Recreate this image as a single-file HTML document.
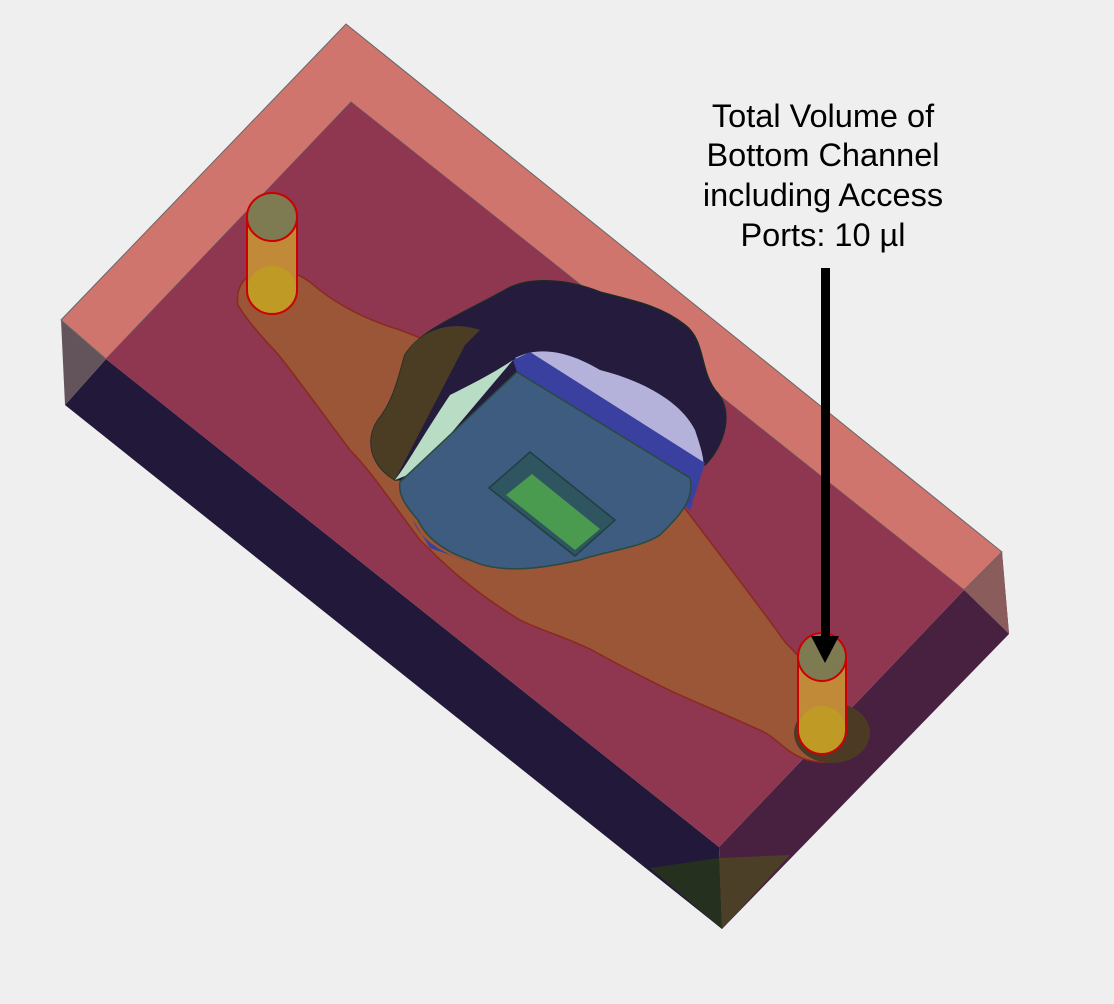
<!DOCTYPE html>
<html><head><meta charset="utf-8"><style>
html,body{margin:0;padding:0;background:#efefef;}
svg{display:block}
</style></head><body>
<svg width="1114" height="1004" viewBox="0 0 1114 1004" xmlns="http://www.w3.org/2000/svg">
<rect width="1114" height="1004" fill="#efefef"/>
<polygon points="65,405 106,359 719,847 722,929" fill="#22193a"/>
<polygon points="61,320 106,359 65,405" fill="#62545a"/>
<polygon points="964,590 1002,552 1009,634 722,929 719,847" fill="#47213f"/>
<polygon points="1002,552 1009,634 964,590" fill="#8a5c5c"/>
<polygon points="650,868 719,858 722,929" fill="#25301f"/>
<polygon points="719,858 790,855 722,929" fill="#4b3f28"/>
<polygon points="61,320 346,24 1002,552 964,590 351,102 106,359" fill="#d0756d" stroke="#666" stroke-width="1"/>
<polygon points="351,102 964,590 719,847 106,359" fill="#8f3650"/>
<!-- channel -->
<path d="M250,275 C265,262 290,268 310,282 C330,300 360,318 400,330 C440,345 470,360 500,375 L680,502 C720,555 755,600 785,642 L850,710 C870,740 850,765 820,762 C790,760 780,740 764,732 C720,712 690,700 667,689 C640,676 610,660 590,649 C560,635 540,630 520,620 C470,590 440,560 420,540 C390,500 370,470 350,450 C320,410 295,375 277,353 C260,335 245,318 238,305 C236,292 240,282 250,275 Z" fill="#9a5636" stroke="#8a2a20" stroke-width="1.5"/>
<ellipse cx="832" cy="733" rx="38" ry="30" fill="#4d3a25"/>
<!-- hole -->
<path d="M505,290 C530,275 570,280 600,292 C630,300 660,305 685,325 C705,340 700,370 715,390 C735,410 725,445 705,465 L395,480 C370,465 365,440 378,420 C395,400 400,370 405,355 C420,330 460,315 505,290 Z" fill="#241b3d" stroke="#1c2a2a" stroke-width="1.5"/>
<path d="M405,355 C420,330 450,320 480,330 L465,345 L395,480 C370,465 365,440 378,420 C395,400 400,370 405,355 Z" fill="#4a3d24"/>
<path d="M515,358 C540,345 570,352 600,370 C640,380 680,400 695,430 C700,445 705,460 703,467 Z" fill="#b4b2da"/>
<path d="M395,480 C410,460 420,440 450,395 C470,385 490,375 513,360 L420,470 Z" fill="#b8dcc4"/>
<polygon points="513,360 530,352 705,463 690,510 517,372" fill="#3a40a0"/>
<path d="M400,482 L517,372 L690,478 C695,500 680,515 660,535 C640,548 610,550 580,560 C545,568 500,575 470,560 C440,550 425,535 418,520 C405,505 398,495 400,482 Z" fill="#3e5b80" stroke="#2a4a40" stroke-width="1.5"/>
<path d="M413,520 C420,540 445,555 470,562 L430,548 Z" fill="#3a40a0"/>
<polygon points="489,488 530,452 615,520 575,556" fill="#2f5560" stroke="#1f4040" stroke-width="1.5"/>
<polygon points="506,495 532,474 600,529 575,550" fill="#4a9a50"/>
<!-- left port -->
<rect x="247" y="217" width="50" height="73" fill="#c08a38"/>
<ellipse cx="272" cy="290" rx="25" ry="24" fill="#bf9a25"/>
<path d="M247,217 L247,290 A25,24 0 0 0 297,290 L297,217" fill="none" stroke="#cc0000" stroke-width="2"/>
<ellipse cx="272" cy="217" rx="25" ry="24" fill="#7e7a52" stroke="#cc0000" stroke-width="2"/>
<!-- right port -->
<rect x="798" y="657" width="48" height="73" fill="#c08a38"/>
<ellipse cx="822" cy="730" rx="24" ry="24" fill="#bf9a25"/>
<path d="M798,657 L798,730 A24,24 0 0 0 846,730 L846,657" fill="none" stroke="#cc0000" stroke-width="2"/>
<ellipse cx="822" cy="657" rx="24" ry="24" fill="#7e7a52" stroke="#cc0000" stroke-width="2"/>
<rect x="821" y="268" width="9" height="372" fill="#000"/>
<polygon points="811,636 839,636 825,663" fill="#000"/>
<g font-family="Liberation Sans, Arial, sans-serif" font-size="32.5" fill="#000" text-anchor="middle">
<text x="823" y="127">Total Volume of</text>
<text x="823" y="166">Bottom Channel</text>
<text x="823" y="206">including Access</text>
<text x="823" y="246">Ports: 10 µl</text>
</g>
</svg>
</body></html>
